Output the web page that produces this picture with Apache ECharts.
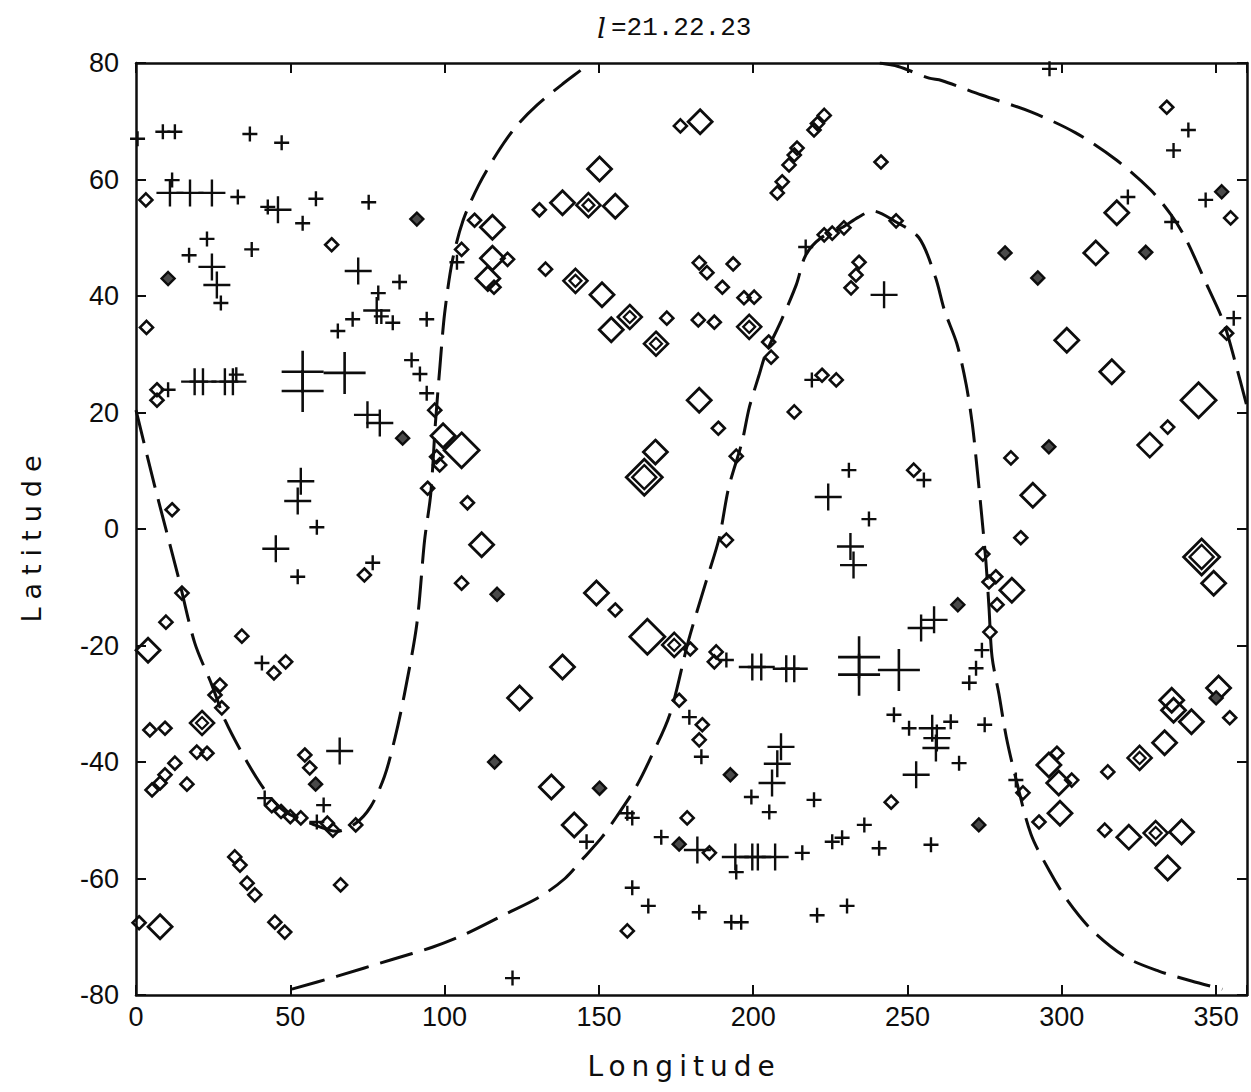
<!DOCTYPE html>
<html>
<head>
<meta charset="utf-8">
<title>l =21.22.23</title>
<script src="https://cdn.jsdelivr.net/npm/echarts@6/dist/echarts.min.js"></script>
<style>
  html, body { margin: 0; padding: 0; background: #fff; }
  #chart { width: 1251px; height: 1092px; }
</style>
</head>
<body>
<div id="chart"></div>
<script>
// ---- Boundary curves (longitude, latitude), dashed ----
const westArc = [
  [0, 20.4], [6, 7.5], [13.6, -8], [19, -19.5], [24.6, -26.8], [29, -33], [36, -40], [42, -45],
  [48, -48.4], [57, -50.6], [65, -51.9], [71, -50.6], [76, -47.7], [80.5, -42.5], [84, -35.7],
  [87, -28.3], [91, -16.3], [93.5, -2], [95.5, 6], [97, 18], [98.5, 28], [100, 37], [102.5, 46],
  [106, 53], [111, 59], [117, 64.5], [123, 69], [130, 72.8], [138, 76.3], [144.7, 79], [147, 80]
];
const eastArc = [
  [241, 80], [247, 79.4], [257, 77.4], [261, 77], [274, 74.5], [290, 71.6], [304.5, 68],
  [317.8, 63.3], [328.8, 58.2], [335.3, 54], [340, 50], [347, 41.9], [352.4, 35.5], [356, 29],
  [360, 21]
];
const southLoop = [
  [50.5, -79], [65, -76.8], [83, -73.9], [96, -71.8], [106.5, -69.6], [119.4, -66.2], [130.7, -63.2],
  [139, -60], [145, -56.5], [151, -52.9], [155.7, -49.4], [162, -44.3], [166.3, -39.8],
  [173, -31.8], [179, -19.2], [184.8, -8.9], [189, -1.5], [192, 7], [196.4, 15], [198.7, 20.8],
  [202, 26.6], [204, 30], [209, 35.7], [214, 42], [217, 47], [222, 50], [229, 51.8], [234, 53.5],
  [238.6, 54.6], [246, 52.8], [253.7, 50], [259, 43.3], [262, 37.5], [266, 31.8], [269, 24.8],
  [271, 18], [272.5, 10.6], [274, 2.5], [275.4, -5.6], [276.4, -13.5], [277.4, -22], [279.6, -28.3],
  [282, -35.7], [285, -42.6], [290, -52.4], [296, -58.7], [302, -63.9], [310, -69], [320.7, -73.5],
  [331.4, -75.9], [342, -77.6], [352, -79]
];

// ---- Cross markers ----
const plusSmall = [
  [0.5, 67], [8.7, 68.2], [12.6, 68.2], [36.9, 67.8], [47.2, 66.3],
  [11.7, 59.9], [33, 57], [42.7, 55.3], [54, 52.5], [58.3, 56.7], [75.4, 56.1],
  [23, 49.8], [17.2, 47], [37.5, 48], [27.5, 38.8],
  [85.4, 42.4], [78.5, 40.5], [79.5, 36.5], [70.2, 36], [65.4, 34], [83.2, 35.4], [94.2, 36],
  [89.3, 29], [92, 26.6], [94.2, 23.3], [104, 45.8], [10.4, 23.9], [32.5, 26.5],
  [58.6, 0.3], [52.4, -8.2], [76.7, -5.8], [40.8, -23],
  [41.7, -46.2], [60.8, -47.4], [58.6, -50.3],
  [217, 48.4], [219, 25.6],
  [296, 79], [341, 68.5], [336.2, 65], [346.6, 56.5], [335.6, 52.7], [355.7, 36.2], [321.4, 57],
  [255.3, 8.4], [237.5, 1.7], [231, 10.1],
  [274.1, -20.8], [272.2, -23.9], [270, -26.4], [191.3, -22.5],
  [146, -53.7], [159.2, -48.8], [160.8, -49.6], [179.3, -32.3], [183.2, -39.1],
  [199.4, -46], [205.2, -48.6], [219.7, -46.5], [170.2, -52.9], [194.5, -58.9], [215.9, -55.6],
  [225.6, -53.7], [228.8, -53], [236, -50.8],
  [160.8, -61.6], [166, -64.7], [182.5, -65.8], [192.9, -67.5], [196.1, -67.5], [220.7, -66.3],
  [230.4, -64.7], [122, -77.1],
  [245.6, -31.9], [250.5, -34.2], [264, -33.1], [266.7, -40.2], [275, -33.6], [240.8, -54.8],
  [257.6, -54.2], [285.1, -43.1]
];
const plusMedium = [
  [11, 57.7], [17.5, 57.7], [24.6, 57.7], [46, 54.8], [24.6, 45], [26.2, 41.9], [72, 44.3], [78, 37.5],
  [19, 25.3], [21.7, 25.3], [28.8, 25.3], [31.4, 25.3],
  [75, 19.6], [79, 18.2], [53.4, 8.2], [52.4, 4.8], [45.3, -3.4], [66, -38.1],
  [242.4, 40.2], [224.3, 5.5], [231.5, -3], [232.5, -6.2], [258.6, -15.6], [254.4, -17],
  [199.7, -23.7], [202.6, -23.7], [210.7, -24], [213.3, -24],
  [209, -37.4], [207.8, -40.3], [206.1, -43.6],
  [181.9, -55.1], [194.2, -56.3], [199.7, -56.3], [201.5, -56.3], [207.1, -56.3],
  [258, -34.2], [259.5, -35.9], [259.2, -37.6], [252.8, -42.2]
];
const plusLarge = [
  [54, 27], [54, 23.7], [67.6, 26.8], [234.3, -22], [234.3, -25], [247.2, -24.2]
];

// ---- Diamond markers ----
const diamondSmall = [
  [3.2, 56.5], [63.4, 48.8], [109.7, 53], [105.5, 48], [116, 41.5], [120.4, 46.3], [3.4, 34.6],
  [6.8, 23.9], [6.8, 22.1], [97.4, 12.4], [98.4, 11], [96.8, 20.4], [94.5, 7], [107.4, 4.5], [105.5, -9.3],
  [11.7, 3.3], [14.9, -11], [9.7, -16], [34.3, -18.4], [44.7, -24.7], [48.5, -22.8], [27.2, -26.8],
  [25.6, -28.5], [74, -7.9],
  [27.8, -30.7], [4.5, -34.5], [9.4, -34.2], [19.7, -38.3], [23, -38.5], [12.6, -40.2], [5.2, -44.8],
  [7.8, -43.6], [9.4, -42.2], [16.5, -43.8],
  [44, -47.5], [47, -48.5], [50, -49.4], [53.4, -49.6], [62, -50.5], [63.8, -51.7], [71.2, -50.8],
  [54.7, -38.8], [56.3, -41],
  [32, -56.3], [33.7, -57.7], [36, -60.8], [38.5, -62.8], [45, -67.5], [48.2, -69.2], [66.3, -61.1], [1, -67.6],
  [176.4, 69.2], [219.7, 68.5], [220.8, 69.6], [223, 71],
  [207.8, 57.7], [209.4, 59.6], [211.6, 62.5], [213.3, 64.2], [214.2, 65.4],
  [130.7, 54.8], [132.7, 44.6], [172, 36.2],
  [182.5, 45.7], [185, 44], [193.5, 45.5], [190, 41.5], [197, 39.7], [200.3, 39.8], [182.2, 35.9], [187.4, 35.5],
  [205, 32.1], [205.8, 29.5], [223, 50.5], [225.6, 50.8], [229.4, 51.7], [234.3, 45.8], [233.3, 43.6], [231.7, 41.4],
  [222.3, 26.4], [226.9, 25.6],
  [334, 72.4], [354.7, 53.4], [353.4, 33.6], [241.4, 63], [246.3, 52.9],
  [334.3, 17.5], [283.5, 12.2], [286.7, -1.5], [274.4, -4.3], [276.4, -9.1], [278.6, -8.2], [279, -13],
  [276.7, -17.7], [252, 10.1],
  [188.7, 17.3], [194.5, 12.5], [213.3, 20.1], [191.3, -1.9], [155.3, -13.9], [179.6, -20.6], [176, -29.4],
  [188, -21.1], [187.4, -22.8],
  [178.6, -49.6], [185.8, -55.6], [159.2, -69], [183.5, -33.6], [182.5, -36.2],
  [244.7, -46.9], [287.4, -45.3], [292.6, -50.3], [298.4, -38.5], [303.2, -43.1], [314.9, -41.7],
  [354.4, -32.4], [313.9, -51.7]
];
const diamondMedium = [
  [115.5, 51.8], [115.5, 46.5], [114, 43], [99.5, 16], [112, -2.7], [3.9, -20.8], [7.8, -68.3],
  [182.8, 69.9], [150.2, 61.8], [138.2, 56], [155.3, 55.4], [151, 40.2], [154, 34.2],
  [301.6, 32.4], [316.2, 27], [317.8, 54.3], [311, 47.4], [328.5, 14.4], [290.6, 5.8], [349.2, -9.3],
  [182.5, 22.1], [168.3, 13.2], [149.2, -11], [138.2, -23.7], [124.3, -29], [134.6, -44.3], [142, -50.8],
  [295.8, -40.5], [299, -43.6], [299.4, -48.8], [333.3, -36.7], [342, -33.1], [336.2, -31.1],
  [321.7, -52.9], [338.8, -52], [334.3, -58.2], [335.6, -29.4], [350.8, -27.3], [283.8, -10.5]
];
const diamondLarge = [
  [105.5, 13.5], [344.3, 22.1], [165.7, -18.5]
];
const diamondDouble = [
  [146.6, 55.6], [142.4, 42.6], [160, 36.4], [168.5, 31.8], [198.7, 34.7], [21.4, -33.3],
  [174.4, -19.9], [325.2, -39.3], [330.4, -52.2]
];
const diamondDoubleLarge = [
  [164.7, 8.9], [345.3, -4.8]
];
const diamondHatched = [
  [91, 53.2], [10.4, 43], [86.4, 15.6], [117, -11.2], [58.2, -43.8], [281.6, 47.4], [292.2, 43.1],
  [351.8, 57.9], [327.2, 47.5], [295.8, 14.1], [266.3, -13], [116.2, -40], [150.2, -44.5],
  [176, -54.1], [192.6, -42.2], [273.1, -50.8], [350, -29]
];

// ---- Axis tick values ----
const lonTicks = [0, 50, 100, 150, 200, 250, 300, 350];
const latTicks = [-80, -60, -40, -20, 0, 20, 40, 60, 80];

const INK = '#0d0d0d';
const TICK_FONT = "'Liberation Sans', 'DejaVu Sans', sans-serif";
const PLUS_PATH = 'path://M10,0L10,20M0,10L20,10';

function curve(data) {
  return {
    type: 'line', data, showSymbol: false, smooth: 0.3, silent: true, z: 2,
    lineStyle: { color: INK, width: 3, type: [34, 12], opacity: 1 }
  };
}
function marks(data, symbol, size, width, fill) {
  return {
    type: 'scatter', data, symbol, symbolSize: size, silent: true, z: 3,
    itemStyle: { color: fill || 'rgba(0,0,0,0)', borderColor: INK, borderWidth: width, opacity: 1 }
  };
}
function frameAxis(pos, isX, showLabels) {
  return {
    type: 'value', position: pos,
    min: isX ? 0 : -80, max: isX ? 360 : 80, interval: isX ? 50 : 20,
    axisLine: { show: true, onZero: false, lineStyle: { color: INK, width: 2.5 } },
    axisTick: { show: true, inside: true, length: 10, lineStyle: { color: INK, width: 2 } },
    splitLine: { show: false },
    axisLabel: {
      show: showLabels, color: INK, fontSize: 27, fontFamily: TICK_FONT,
      margin: isX ? 8 : 17,
      formatter: v => {
        const list = isX ? lonTicks : latTicks;
        return list.indexOf(v) >= 0 ? String(v) : '';
      }
    }
  };
}

const dom = document.getElementById('chart');
const chart = echarts.init(dom, null, { renderer: 'svg' });
chart.setOption({
  animation: false,
  backgroundColor: '#fff',
  title: {
    text: '{l|l} {v|=21.22.23}',
    left: 592, top: 9,
    textStyle: {
      fontWeight: 'normal',
      rich: {
        l: { fontFamily: "'DejaVu Serif', serif", fontStyle: 'italic', fontWeight: 'normal', fontSize: 28, color: INK },
        v: { fontFamily: "'Liberation Mono', 'DejaVu Sans Mono', monospace", fontWeight: 'normal', fontSize: 26, color: INK }
      }
    }
  },
  grid: { left: 136, right: 4, top: 63, bottom: 97 },
  xAxis: [frameAxis('bottom', true, true), frameAxis('top', true, false)],
  yAxis: [frameAxis('left', false, true), frameAxis('right', false, false)],
  graphic: [
    { type: 'text', id: 'lonName', x: 684, y: 1066,
      style: { text: 'Longitude', fontSize: 28, fontFamily: "'DejaVu Sans', sans-serif", fill: INK,
               align: 'center', verticalAlign: 'middle' } },
    { type: 'text', id: 'latName', x: 31, y: 535, rotation: Math.PI / 2,
      style: { text: 'Latitude', fontSize: 27, fontFamily: "'DejaVu Sans', sans-serif", fill: INK,
               align: 'center', verticalAlign: 'middle' } }
  ],
  series: [
    curve(westArc), curve(eastArc), curve(southLoop),
    marks(plusSmall, PLUS_PATH, 15, 2.4),
    marks(plusMedium, PLUS_PATH, 27, 2.4),
    marks(plusLarge, PLUS_PATH, 42, 2.6),
    marks(diamondSmall, 'diamond', 13, 2.6),
    marks(diamondMedium, 'diamond', 24, 2.8),
    marks(diamondLarge, 'diamond', 35, 2.8),
    marks(diamondDouble, 'diamond', 24, 2.6),
    marks(diamondDouble, 'diamond', 12, 2.2),
    marks(diamondDoubleLarge, 'diamond', 36, 2.8),
    marks(diamondDoubleLarge, 'diamond', 24, 2.4),
    marks(diamondHatched, 'diamond', 13, 2.4, '#4a4a4a')
  ]
});

// Spread the letters of the axis titles
const SPACING = { Longitude: '6px', Latitude: '8px' };
function spreadTitles() {
  dom.querySelectorAll('text').forEach(t => {
    const s = (t.textContent || '').trim();
    if (SPACING[s] && t.style.letterSpacing !== SPACING[s]) {
      t.style.letterSpacing = SPACING[s];
      t.setAttribute('letter-spacing', SPACING[s]);
    }
  });
}
new MutationObserver(spreadTitles).observe(dom, { childList: true, subtree: true });
chart.on('finished', spreadTitles);
spreadTitles();
setTimeout(spreadTitles, 0);
setTimeout(spreadTitles, 100);
</script>
</body>
</html>
